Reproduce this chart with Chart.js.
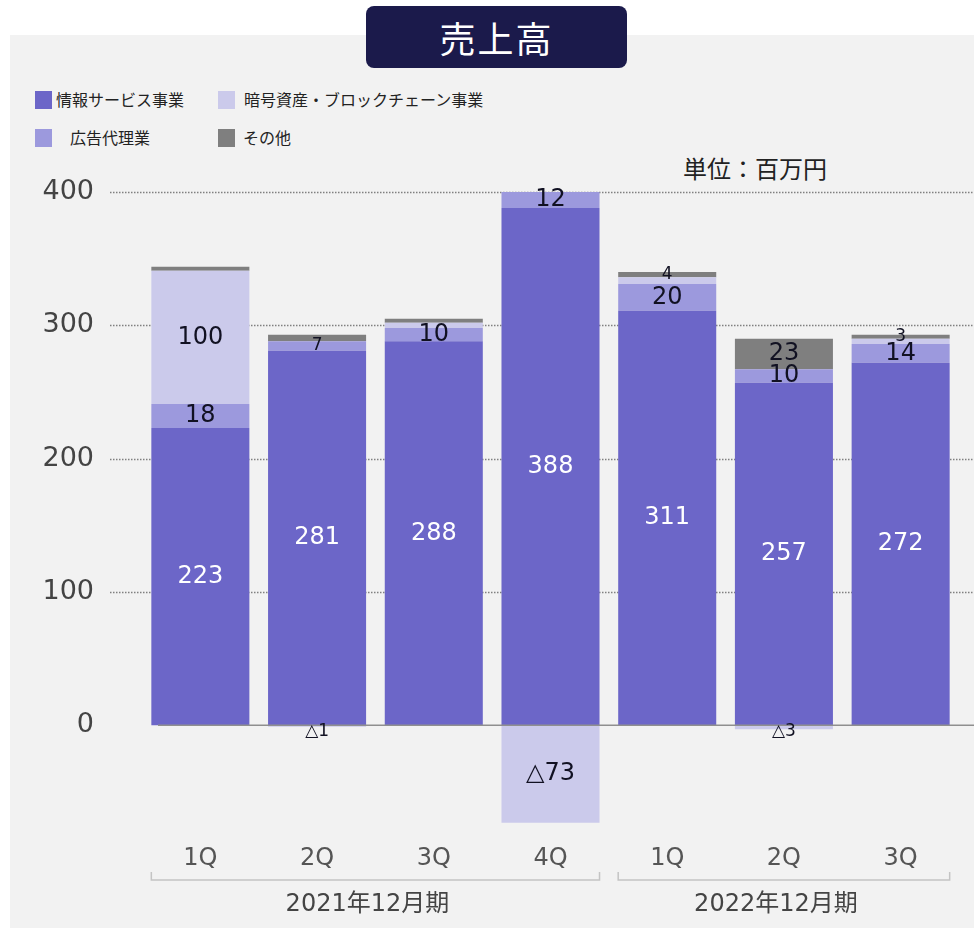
<!DOCTYPE html>
<html lang="ja">
<head>
<meta charset="utf-8">
<script src="https://cdn.jsdelivr.net/npm/chart.js@4.4.1/dist/chart.umd.min.js"></script>
<style>
  body { margin: 0; width: 974px; height: 928px; background: #fff; position: relative; overflow: hidden;
         font-family: 'Noto Sans CJK JP', sans-serif; }
  .panel { position: absolute; left: 10px; top: 35px; right: 0; bottom: 0; background: #f2f2f2; }
  .title { position: absolute; left: 366px; top: 6px; width: 261px; height: 62px; background: #1b1a4b;
           border-radius: 8px; color: #fff; font-size: 36px; line-height: 62px; text-align: center; letter-spacing: 2px; }
  .lg { position: absolute; font-size: 16px; color: #222; line-height: 18px; white-space: nowrap; }
  .lg i { position: absolute; top: 0; width: 17px; height: 18px; }
  .unit { position: absolute; left: 683px; top: 150px; font-size: 24px; color: #222; white-space: nowrap; }
  canvas { position: absolute; left: 0; top: 0; }
</style>
</head>
<body>
<div class="panel"></div>
<div class="title">売上高</div>
<div id="legend"></div>
<div class="unit">単位：百万円</div>
<canvas id="salesChart" width="974" height="928"></canvas>
<script>
// --- DATA --- //
const categories = ["1Q", "2Q", "3Q", "4Q", "1Q", "2Q", "3Q"];
const groupLabels = ["2021年12月期", "2022年12月期"];
const groupRanges = [[0, 3], [4, 6]];
const seriesNames = ["情報サービス事業", "広告代理業", "暗号資産・ブロックチェーン事業", "その他"];
const infoService = [223, 281, 288, 388, 311, 257, 272];
const adAgency = [18, 7, 10, 12, 20, 10, 14];
const cryptoBiz = [100, -1, 4, -73, 5, -3, 4];
const others = [3, 5, 3, 0, 4, 23, 3];
const yTicks = [0, 100, 200, 300, 400];
// ラベルを出さない小さい区分 (dataset index -> bar index)
const hiddenLabels = { 2: [2, 4, 6], 3: [0, 1, 2] };

const colors = ["#6c66c8", "#9c99dd", "#cbcaeb", "#7f7f7f"];
const numFont = "'DejaVu Sans', 'Noto Sans CJK JP', sans-serif";

// --- LEGEND (HTML) --- //
const legendPos = [[35, 91, 56], [35, 129, 70], [218, 91, 244], [218, 129, 243]];
const legendBox = document.getElementById("legend");
seriesNames.forEach((name, s) => {
  const [bx, by, tx] = legendPos[s];
  legendBox.insertAdjacentHTML("beforeend",
    `<div class="lg" style="left:${bx}px;top:${by}px;width:${tx - bx + 260}px;height:18px">` +
    `<i style="left:0;background:${colors[s]}"></i>` +
    `<span style="position:absolute;left:${tx - bx}px;top:-1px">${name}</span></div>`);
});

// --- PLUGIN: grid, zero line, labels, brackets --- //
const decor = {
  id: "decor",
  beforeDatasetsDraw(chart) {
    const { ctx, scales: { y } } = chart;
    ctx.save();
    ctx.strokeStyle = "#808080";
    ctx.lineWidth = 1.5;
    ctx.setLineDash([1.5, 1.5]);
    yTicks.forEach(v => {
      if (v === 0) return;
      const py = Math.round(y.getPixelForValue(v)) + 0.5;
      ctx.beginPath(); ctx.moveTo(110, py); ctx.lineTo(974, py); ctx.stroke();
    });
    ctx.restore();
  },
  afterDatasetsDraw(chart) {
    const { ctx, scales: { y } } = chart;
    ctx.save();
    // 0 line
    ctx.strokeStyle = "#8f8f8f";
    ctx.lineWidth = 1.5;
    const y0 = y.getPixelForValue(0);
    ctx.beginPath(); ctx.moveTo(158, y0); ctx.lineTo(974, y0); ctx.stroke();

    // data labels
    ctx.textAlign = "center";
    ctx.textBaseline = "middle";
    chart.data.datasets.forEach((ds, di) => {
      const meta = chart.getDatasetMeta(di);
      meta.data.forEach((bar, i) => {
        const v = ds.data[i];
        if (!v) return;
        if (hiddenLabels[di] && hiddenLabels[di].includes(i)) return;
        const small = Math.abs(v) < 9 && di !== 0;
        ctx.font = (small ? "17px " : "24px ") + numFont;
        ctx.fillStyle = di === 0 ? "#ffffff" : "#111122";
        const txt = v < 0 ? "△" + Math.abs(v) : String(v);
        let cy = (bar.y + bar.base) / 2;
        if (v < 0 && Math.abs(v) < 9) cy = bar.base + 6;
        ctx.fillText(txt, bar.x, cy);
      });
    });
    ctx.restore();
  },
  afterDraw(chart) {
    const { ctx, scales: { x } } = chart;
    const half = chart.getDatasetMeta(0).data[0].width / 2;
    ctx.save();
    ctx.strokeStyle = "#c4c4c4";
    ctx.lineWidth = 1.5;
    ctx.fillStyle = "#444";
    ctx.font = "24px " + numFont;
    ctx.textAlign = "center";
    ctx.textBaseline = "middle";
    groupRanges.forEach(([a, b], g) => {
      const x1 = x.getPixelForValue(a) - half;
      const x2 = x.getPixelForValue(b) + half;
      ctx.beginPath();
      ctx.moveTo(x1, 872); ctx.lineTo(x1, 880); ctx.lineTo(x2, 880); ctx.lineTo(x2, 872);
      ctx.stroke();
      ctx.fillText(groupLabels[g], (x1 + x2) / 2 - 8, 905);
    });
    ctx.restore();
  }
};

// --- CHART --- //
const ctx = document.getElementById("salesChart");
new Chart(ctx, {
  type: "bar",
  data: {
    labels: categories,
    datasets: [
      { label: seriesNames[0], data: infoService, backgroundColor: colors[0] },
      { label: seriesNames[1], data: adAgency, backgroundColor: colors[1] },
      { label: seriesNames[2], data: cryptoBiz, backgroundColor: colors[2] },
      { label: seriesNames[3], data: others, backgroundColor: colors[3] }
    ]
  },
  options: {
    responsive: false,
    animation: false,
    layout: { padding: { top: 192, right: 15, bottom: 0, left: 0 } },
    datasets: { bar: { barPercentage: 0.84, categoryPercentage: 1, borderWidth: 0 } },
    plugins: { legend: { display: false }, tooltip: { enabled: false } },
    scales: {
      x: {
        stacked: true,
        grid: { display: false, drawTicks: false },
        border: { display: false },
        ticks: { color: "#555", padding: 12, font: { size: 24, family: numFont } },
        afterFit: s => { s.height = 96; }
      },
      y: {
        stacked: true,
        min: -80,
        max: 400,
        grid: { display: false, drawTicks: false },
        border: { display: false },
        afterBuildTicks: s => { s.ticks = yTicks.map(v => ({ value: v })); },
        ticks: { color: "#444", padding: 48, font: { size: 27, family: numFont } },
        afterFit: s => { s.width = 142; }
      }
    }
  },
  plugins: [decor]
});
</script>
</body>
</html>
